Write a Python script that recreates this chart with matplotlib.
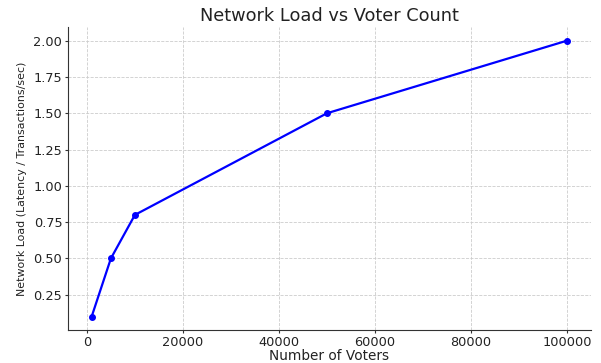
import numpy as np
import matplotlib
matplotlib.use('Agg')
import matplotlib.pyplot as plt

# Voter counts and the measured network load.
voters = [1000, 5000, 10000, 50000, 100000]
load = [0.1, 0.5, 0.8, 1.5, 2.0]

fig = plt.figure(figsize=(6.01, 3.63), dpi=100)
ax = fig.add_subplot(111)

ax.plot(voters, load, marker='o', color='blue', lw=1.6, ms=4)

ax.grid(True, ls='--', color='#cccccc', lw=0.6)
ax.spines['top'].set_visible(False)
ax.spines['right'].set_visible(False)
ax.spines['left'].set_color('#333333')
ax.spines['bottom'].set_color('#333333')
ax.tick_params(length=2, pad=2, labelsize=9.3, colors='#333333', labelcolor='#222222')

ax.set_title('Network Load vs Voter Count', fontsize=12.8, color='#222222', pad=4)
ax.set_xlabel('Number of Voters', fontsize=9.8, color='#222222', labelpad=0)
ax.set_ylabel('Network Load (Latency / Transactions/sec)', fontsize=7.9,
    color='#222222', labelpad=5)

fig.subplots_adjust(left=0.113, right=0.983, top=0.926, bottom=0.09)
fig.savefig('out.png', dpi=100)
